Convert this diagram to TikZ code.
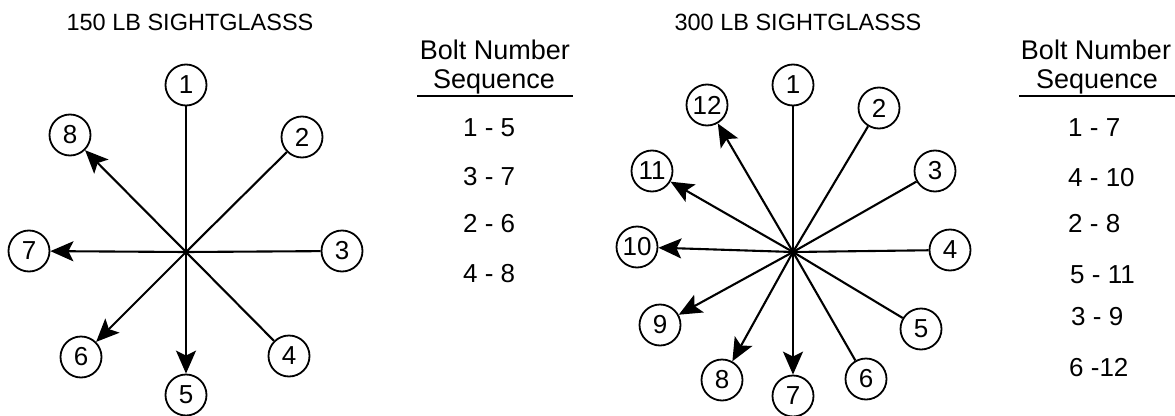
\documentclass[tikz,border=0pt]{standalone}
\usepackage{fontspec}
\setmainfont{Liberation Sans}
\usetikzlibrary{arrows.meta}
\begin{document}
\begin{tikzpicture}[x=1pt,y=-1pt,
  bolt/.style={circle,draw,line width=1.8pt,minimum size=41pt,inner sep=0pt,font=\fontsize{26}{28}\selectfont},
  spoke/.style={line width=2.1pt},
  arr/.style={spoke,-{Stealth[length=23pt,width=20pt,inset=5pt]}},
  ttl/.style={font=\fontsize{23.5}{26}\selectfont},
  hdr/.style={font=\fontsize{27}{30}\selectfont},
  seq/.style={anchor=west,font=\fontsize{26}{28}\selectfont,inner sep=0pt}]
\useasboundingbox (0,0) rectangle (1175,415);
% ---------- 150 LB ----------
\node[ttl] (t1) at (190,22) {150 LB SIGHTGLASSS};
\coordinate (c1) at (186,252);
\node[bolt] (a1) at (186,85) {1};
\node[bolt] (a2) at (302,137) {2};
\node[bolt] (a3) at (342,251) {3};
\node[bolt] (a4) at (289,356) {4};
\node[bolt] (a5) at (186,395) {5};
\node[bolt] (a6) at (81,357) {6};
\node[bolt] (a7) at (29,251) {7};
\node[bolt] (a8) at (70,135) {8};
\foreach \i in {1,2,3,4} \draw[spoke] (a\i) -- (c1);
\foreach \i in {5,6,7,8} \draw[arr] (c1) -- (a\i);
\node[hdr] (h1a) at (495,50) {Bolt Number};
\node[hdr] (h1b) at (494,82) {Sequence};
\coordinate (u1s) at (417,96);
\coordinate (u1e) at (573,96);
\draw[line width=2pt] (u1s) -- (u1e);
\node[seq] (s11) at (463,128) {1 - 5};
\node[seq] (s12) at (463,177) {3 - 7};
\node[seq] (s13) at (463,224) {2 - 6};
\node[seq] (s14) at (463,274) {4 - 8};
% ---------- 300 LB ----------
\node[ttl] (t2) at (798,22) {300 LB SIGHTGLASSS};
\coordinate (c2) at (793,252);
\node[bolt] (b1) at (793,85) {1};
\node[bolt] (b2) at (879,108) {2};
\node[bolt] (b3) at (935,171) {3};
\node[bolt] (b4) at (950,250) {4};
\node[bolt] (b5) at (921,329) {5};
\node[bolt] (b6) at (866,379) {6};
\node[bolt] (b7) at (793,396) {7};
\node[bolt] (b8) at (722,380) {8};
\node[bolt] (b9) at (660,325) {9};
\node[bolt] (b10) at (637,247) {10};
\node[bolt] (b11) at (652,171) {11};
\node[bolt] (b12) at (707,105) {12};
\foreach \i in {1,...,6} \draw[spoke] (b\i) -- (c2);
\foreach \i in {7,...,12} \draw[arr] (c2) -- (b\i);
\node[hdr] (h2a) at (1096,50) {Bolt Number};
\node[hdr] (h2b) at (1097,82) {Sequence};
\coordinate (u2s) at (1019,96);
\coordinate (u2e) at (1175,96);
\draw[line width=2pt] (u2s) -- (u2e);
\node[seq] (s21) at (1068,128) {1 - 7};
\node[seq] (s22) at (1068,178) {4 - 10};
\node[seq] (s23) at (1068,224) {2 - 8};
\node[seq] (s24) at (1070,275) {5 - 11};
\node[seq] (s25) at (1071,317) {3 - 9};
\node[seq] (s26) at (1069,368) {6 -12};
\end{tikzpicture}
\end{document}
